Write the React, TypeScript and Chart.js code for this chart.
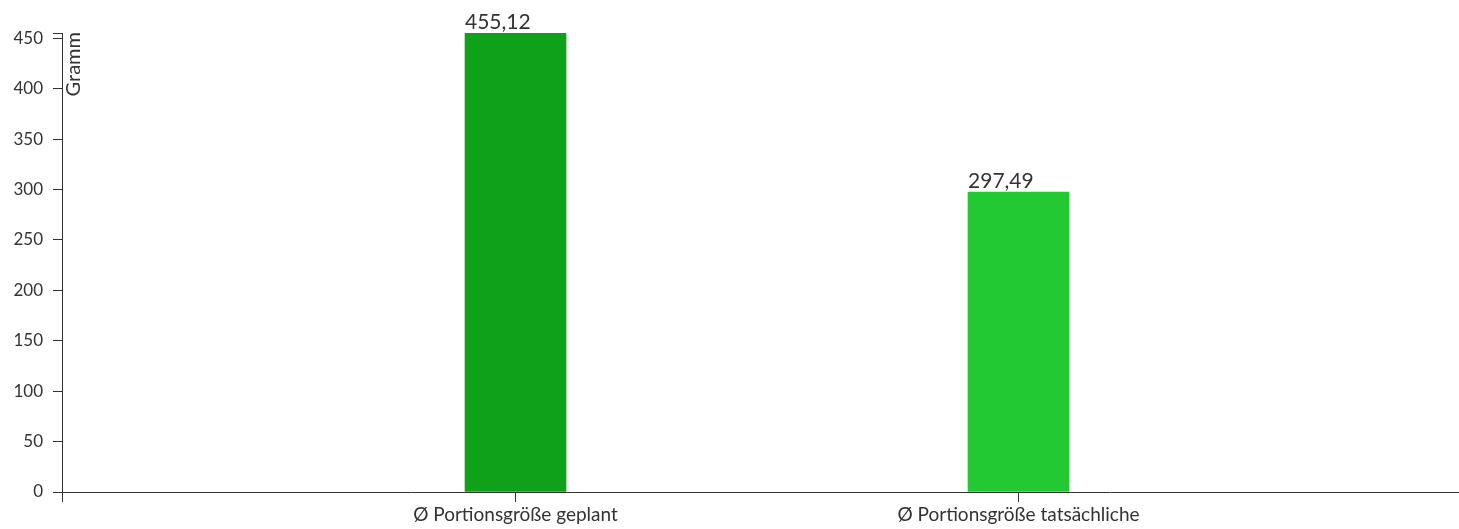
import React, { useEffect, useRef } from "react";
import { Chart, registerables } from "chart.js";

Chart.register(...registerables);

const categories = ["Ø Portionsgröße geplant", "Ø Portionsgröße tatsächliche"];
const values = [455.12, 297.49];
const barColors = ["#10a11a", "#23c932"];
const yTicks = [0, 50, 100, 150, 200, 250, 300, 350, 400, 450];
const yTitle = "Gramm";

const FONT = "Lato, 'Open Sans', sans-serif";
const INK = "#333333";

export default function App() {
  const ref = useRef<HTMLCanvasElement | null>(null);

  useEffect(() => {
    if (!ref.current) return;
    const extras = {
      id: "extras",
      afterDraw(chart: any) {
        const ctx = chart.ctx;
        const area = chart.chartArea;
        const meta = chart.getDatasetMeta(0);
        ctx.save();
        ctx.fillStyle = INK;
        ctx.font = `21px ${FONT}`;
        ctx.textAlign = "left";
        ctx.textBaseline = "alphabetic";
        meta.data.forEach((bar: any, i: number) => {
          const w = bar.width;
          ctx.fillText(values[i].toFixed(2).replace(".", ","), bar.x - w / 2, bar.y - 4);
        });
        ctx.save();
        ctx.translate(area.left + 18, area.top - 1);
        ctx.rotate(-Math.PI / 2);
        ctx.textAlign = "right";
        ctx.font = `20px ${FONT}`;
        ctx.fillText(yTitle, 0, 0);
        ctx.restore();
        ctx.strokeStyle = INK;
        ctx.lineWidth = 1;
        ctx.beginPath();
        ctx.moveTo(area.left - 9, Math.round(area.top) + 0.5);
        ctx.lineTo(area.left, Math.round(area.top) + 0.5);
        ctx.moveTo(Math.round(area.left) + 0.5, area.bottom);
        ctx.lineTo(Math.round(area.left) + 0.5, area.bottom + 10);
        ctx.stroke();
        ctx.restore();
      },
    };

    const chart = new Chart(ref.current, {
      type: "bar",
      data: {
        datasets: [
          {
            data: values.map((v, i) => ({ x: i, y: v })) as any,
            backgroundColor: barColors,
            barThickness: 101,
            borderWidth: 0,
          },
        ],
      },
      options: {
        responsive: false,
        animation: false,
        layout: { padding: { top: 33, left: 0, right: 0, bottom: 0 } },
        plugins: { legend: { display: false }, tooltip: { enabled: false } },
        scales: {
          x: {
            type: "linear",
            offset: false,
            min: -0.9016,
            max: 1.8757,
            afterBuildTicks: (s: any) => {
              s.ticks = categories.map((_, i) => ({ value: i }));
            },
            afterFit: (s: any) => {
              s.height = 37;
            },
            grid: { offset: false, drawOnChartArea: false, drawTicks: true, tickLength: 10, color: INK },
            border: { display: true, color: INK, width: 1 },
            ticks: {
              autoSkip: false,
              maxRotation: 0,
              padding: 1,
              color: INK,
              font: { family: FONT, size: 19 },
              callback: (v: any) => categories[v] ?? "",
            },
          },
          y: {
            type: "linear",
            min: 0,
            max: 455.12,
            afterBuildTicks: (s: any) => {
              s.ticks = yTicks.map((v) => ({ value: v }));
            },
            afterFit: (s: any) => {
              s.width = 62;
            },
            grid: { drawOnChartArea: false, drawTicks: true, tickLength: 9, color: INK },
            border: { display: true, color: INK, width: 1 },
            ticks: {
              padding: 10,
              color: INK,
              font: { family: FONT, size: 17 },
            },
          },
        },
      },
      plugins: [extras],
    });
    return () => chart.destroy();
  }, []);

  return (
    <div style={{ position: "absolute", left: 0, top: 0, width: 1459, height: 529, background: "#fff" }}>
      <canvas ref={ref} width={1459} height={529} style={{ width: 1459, height: 529, display: "block" }} />
    </div>
  );
}
